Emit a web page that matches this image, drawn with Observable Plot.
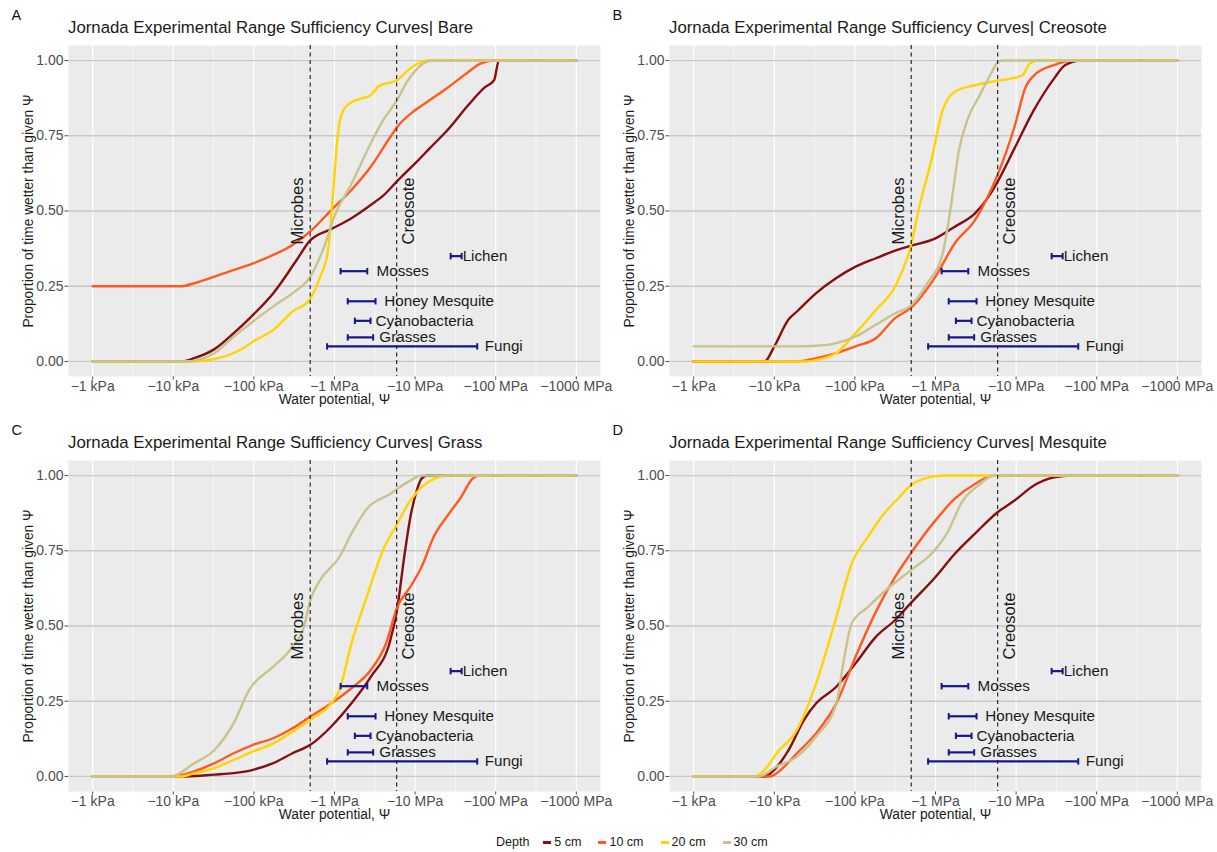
<!DOCTYPE html>
<html>
<head>
<meta charset="utf-8">
<script src="https://cdn.jsdelivr.net/npm/d3@7"></script>
<script src="https://cdn.jsdelivr.net/npm/@observablehq/plot@0.6"></script>
<style>
  body { margin: 0; background: #fff; }
  #root { position: relative; width: 1217px; height: 852px; overflow: hidden; font-family: "Liberation Sans", Arial, sans-serif; background: #fff; }
  .letter { position: absolute; font-size: 14.5px; line-height: 1; color: #111; }
  .title { position: absolute; font-size: 16.8px; line-height: 1; color: #1a1a1a; white-space: nowrap; }
  .panel { position: absolute; }
  .panel svg g[aria-label*="tick label"], .panel svg g[aria-label*="tick label"] text,
  .panel svg g[aria-label="x-axis"] text, .panel svg g[aria-label="y-axis"] text { font-size: 14px; }
  #legend { position: absolute; left: 496px; top: 834px; height: 16px; display: flex; align-items: center; font-size: 12.5px; color: #1a1a1a; white-space: nowrap; }
  #legend .sw { display: inline-block; width: 8px; height: 3px; margin-left: 17px; margin-right: 3px; }
</style>
</head>
<body>
<div id="root"></div>
<script>
// ---------- data ----------
const panels = ["Bare", "Creosote", "Grass", "Mesquite"];
const panelLetters = ["A", "B", "C", "D"];
const panelTitles = [
  "Jornada Experimental Range Sufficiency Curves| Bare",
  "Jornada Experimental Range Sufficiency Curves| Creosote",
  "Jornada Experimental Range Sufficiency Curves| Grass",
  "Jornada Experimental Range Sufficiency Curves| Mesquite"
];
const depths = ["5 cm", "10 cm", "20 cm", "30 cm"];
const depthColors = ["#860f12", "#ff5a22", "#ffd400", "#c9c38b"];

// x ticks: |water potential| in kPa
const xTickValues = [1, 10, 100, 1000, 10000, 100000, 1000000];
const xTickLabels = ["\u22121 kPa", "\u221210 kPa", "\u2212100 kPa", "\u22121 MPa", "\u221210 MPa", "\u2212100 MPa", "\u22121000 MPa"];
const xMinorValues = [3.16, 31.6, 316, 3160, 31600, 316000];
const yTickValues = [0, 0.25, 0.5, 0.75, 1];

// curves: [ |psi| kPa , proportion ]
const bare5 = [[1,0],[12.6,0],[18.2,0.011],[32.4,0.041],[56.2,0.094],[97.7,0.155],[174,0.227],[339,0.337],[490,0.40],[912,0.44],[1622,0.476],[2818,0.52],[3981,0.55],[6026,0.60],[10000,0.658],[15136,0.708],[26303,0.774],[45709,0.852],[72444,0.91],[95499,0.935],[109648,1],[1e6,1]];
const bare10 = [[1,0.25],[12.6,0.25],[18.2,0.26],[32.4,0.282],[56.2,0.304],[97.7,0.326],[174,0.354],[302,0.387],[525,0.437],[912,0.503],[1622,0.57],[2818,0.647],[4898,0.745],[6026,0.78],[10000,0.835],[15136,0.868],[26303,0.913],[45709,0.962],[64565,0.99],[95499,1],[1e6,1]];
const bare20 = [[1,0],[18.2,0],[32.4,0.008],[56.2,0.028],[79.4,0.05],[97.7,0.066],[174,0.105],[302,0.166],[490,0.205],[661,0.28],[832,0.37],[955,0.55],[1096,0.75],[1259,0.83],[1585,0.86],[2239,0.875],[2818,0.885],[3548,0.915],[6026,0.935],[7943,0.965],[10000,0.985],[14125,1],[1e6,1]];
const bare30 = [[1,0],[14.8,0],[32.4,0.028],[56.2,0.083],[97.7,0.133],[174,0.183],[302,0.227],[501,0.282],[741,0.38],[1023,0.49],[1622,0.59],[2818,0.725],[3981,0.80],[6026,0.87],[7943,0.93],[10000,0.965],[12589,0.99],[15849,1],[1e6,1]];

const creo5 = [[1,0],[7.59,0],[10,0.05],[15.1,0.14],[19.1,0.166],[33.1,0.227],[58.9,0.277],[102,0.315],[182,0.343],[316,0.368],[490,0.384],[1000,0.409],[1738,0.448],[3090,0.492],[4266,0.537],[5888,0.597],[9550,0.708],[16596,0.835],[29512,0.94],[40738,0.985],[64565,1],[1e6,1]];
const creo10 = [[1,0],[19.1,0],[33.1,0.011],[58.9,0.028],[102,0.05],[182,0.077],[316,0.144],[490,0.177],[1000,0.282],[1738,0.393],[3090,0.47],[4266,0.537],[5888,0.62],[9550,0.78],[13183,0.913],[16596,0.95],[29512,0.985],[51286,1],[1e6,1]];
const creo20 = [[1,0],[25.1,0],[33.1,0.005],[58.9,0.028],[102,0.094],[182,0.171],[316,0.249],[490,0.38],[631,0.514],[891,0.67],[1230,0.835],[1738,0.896],[3090,0.918],[5370,0.931],[8511,0.94],[12023,0.951],[14791,0.99],[18621,1],[1e6,1]];
const creo30 = [[1,0.05],[19.1,0.05],[33.1,0.052],[58.9,0.061],[102,0.083],[182,0.122],[316,0.16],[490,0.185],[794,0.26],[1230,0.36],[1549,0.514],[1950,0.70],[2570,0.813],[3467,0.88],[4898,0.957],[6026,0.996],[7079,1],[1e6,1]];

const grass5 = [[1,0],[14.8,0],[32.4,0.006],[56.2,0.011],[97.7,0.022],[174,0.044],[302,0.077],[501,0.105],[912,0.166],[1622,0.243],[2818,0.331],[4898,0.45],[6026,0.56],[7244,0.72],[8710,0.86],[10471,0.95],[12023,0.99],[14125,1],[1e6,1]];
const grass10 = [[1,0],[9.33,0],[18.2,0.017],[32.4,0.044],[56.2,0.077],[97.7,0.105],[174,0.127],[302,0.16],[501,0.199],[912,0.243],[1622,0.293],[2818,0.354],[4365,0.442],[6026,0.564],[8710,0.63],[12023,0.696],[16982,0.796],[26303,0.873],[37154,0.928],[51286,0.989],[63096,1],[1e6,1]];
const grass20 = [[1,0],[12.6,0],[18.2,0.011],[32.4,0.028],[56.2,0.055],[97.7,0.083],[174,0.11],[302,0.149],[501,0.188],[912,0.243],[1148,0.287],[1622,0.442],[2512,0.597],[3981,0.751],[6026,0.84],[8710,0.917],[12023,0.961],[19055,0.994],[25119,1],[1e6,1]];
const grass30 = [[1,0],[9.33,0],[18.2,0.044],[32.4,0.088],[56.2,0.177],[87.1,0.287],[174,0.365],[302,0.431],[417,0.497],[501,0.586],[661,0.652],[1148,0.729],[1622,0.807],[2512,0.889],[4898,0.939],[8710,0.983],[12023,1],[1e6,1]];

const mesq5 = [[1,0],[7.59,0],[9.55,0.017],[15.1,0.088],[23.4,0.188],[33.1,0.243],[58.9,0.298],[102,0.376],[182,0.464],[316,0.52],[490,0.575],[1000,0.663],[1738,0.74],[3090,0.807],[5888,0.878],[9550,0.917],[16596,0.967],[29512,0.994],[50119,1],[1e6,1]];
const mesq10 = [[1,0],[8.91,0],[10.7,0.011],[19.1,0.077],[33.1,0.144],[58.9,0.243],[102,0.398],[182,0.547],[316,0.663],[490,0.74],[1000,0.851],[1738,0.923],[3090,0.972],[5370,1],[1e6,1]];
const mesq20 = [[1,0],[5.62,0],[7.59,0.022],[10.7,0.077],[19.1,0.155],[33.1,0.31],[58.9,0.53],[91.2,0.707],[145,0.796],[229,0.873],[355,0.928],[490,0.967],[708,0.989],[1259,1],[1e6,1]];
const mesq30 = [[1,0],[6.31,0],[10.7,0.033],[19.1,0.066],[33.1,0.133],[58.9,0.243],[74.1,0.398],[91.2,0.508],[145,0.563],[229,0.613],[490,0.685],[891,0.74],[1380,0.807],[2188,0.917],[3388,0.967],[5370,1],[1e6,1]];

const seriesByPanel = {
  Bare: [bare5, bare10, bare20, bare30],
  Creosote: [creo5, creo10, creo20, creo30],
  Grass: [grass5, grass10, grass20, grass30],
  Mesquite: [mesq5, mesq10, mesq20, mesq30]
};

// thresholds (|psi| kPa)
const thresholdNames = ["Microbes", "Creosote"];
const thresholdPsi = [500, 5900];

// organism ranges (|psi| kPa)
const organisms = ["Lichen", "Mosses", "Honey Mesquite", "Cyanobacteria", "Grasses", "Fungi"];
const rangeLo = [27600, 1190, 1460, 1790, 1460, 810];
const rangeHi = [37800, 2550, 3230, 2800, 3020, 59000];
const rangeP = [0.35, 0.30, 0.20, 0.135, 0.08, 0.05];
const labelPsi = [37800, 3230, 4030, 3140, 3500, 71000];

// ---------- build ----------
const root = document.getElementById("root");
const navy = "#16168a";
const font = "Liberation Sans, Arial, sans-serif";
const capSymbol = { draw(ctx, size) { const h = Math.sqrt(size / Math.PI); ctx.moveTo(0, -h); ctx.lineTo(0, h); } };

const bars = organisms.map((name, i) => ({ name, lo: rangeLo[i], hi: rangeHi[i], p: rangeP[i], lx: labelPsi[i] }));
const caps = bars.flatMap(b => [{ psi: b.lo, p: b.p }, { psi: b.hi, p: b.p }]);
const thresholds = thresholdNames.map((name, i) => ({ name, psi: thresholdPsi[i] }));

const colX = [0, 601], rowY = [0, 415];

panels.forEach((name, i) => {
  const ox = colX[i % 2], oy = rowY[Math.floor(i / 2)];

  const L = document.createElement("div");
  L.className = "letter"; L.style.left = (ox + 11.5) + "px"; L.style.top = (oy + 7.5) + "px";
  L.textContent = panelLetters[i]; root.appendChild(L);

  const T = document.createElement("div");
  T.className = "title"; T.style.left = (ox + 68) + "px"; T.style.top = (oy + 19.5) + "px";
  T.textContent = panelTitles[i]; root.appendChild(T);

  const rows = [];
  seriesByPanel[name].forEach((s, j) => s.forEach(([psi, p]) => rows.push({ psi, p, depth: depths[j] })));

  const svg = Plot.plot({
    width: 608, height: 370,
    marginLeft: 68, marginRight: 8, marginTop: 5, marginBottom: 34,
    style: { fontFamily: font, fontSize: "14px", color: "#4d4d4d", background: "transparent", overflow: "visible" },
    x: { type: "log", domain: [Math.pow(10, -0.3), Math.pow(10, 6.3)], ticks: xTickValues,
         tickFormat: d => xTickLabels[xTickValues.indexOf(d)], tickSize: 3.5, tickPadding: 1, label: null },
    y: { domain: [-0.05, 1.05], ticks: yTickValues, tickFormat: d3.format(".2f"), tickSize: 3.5, tickPadding: 1.5, label: null },
    color: { domain: depths, range: depthColors },
    marks: [
      Plot.frame({ fill: "#ebebeb", stroke: null }),
      Plot.ruleX(xMinorValues, { stroke: "white", strokeWidth: 0.6 }),
      Plot.ruleX(xTickValues, { stroke: "white", strokeWidth: 1.2 }),
      Plot.ruleY(yTickValues, { stroke: "#c9c9c9", strokeWidth: 1.3 }),
      Plot.line(rows, { x: "psi", y: "p", stroke: "depth", z: "depth", strokeWidth: 2.4, curve: "monotone-x", strokeLinejoin: "round" }),
      Plot.ruleX(thresholds, { x: "psi", stroke: "#2a2a2a", strokeWidth: 1.2, strokeDasharray: "4,3.5" }),
      Plot.text(thresholds, { x: "psi", y: () => 0.5, text: "name", rotate: -90,
        fontSize: 16.5, fill: "#1a1a1a", textAnchor: "middle", lineAnchor: "middle",
        filter: d => d.name === "Microbes", dx: -13 }),
      Plot.text(thresholds, { x: "psi", y: () => 0.5, text: "name", rotate: -90,
        fontSize: 16.5, fill: "#1a1a1a", textAnchor: "middle", lineAnchor: "middle",
        filter: d => d.name === "Creosote", dx: 12 }),
      Plot.ruleY(bars, { y: "p", x1: "lo", x2: "hi", stroke: navy, strokeWidth: 2.2 }),
      Plot.dot(caps, { x: "psi", y: "p", symbol: capSymbol, r: 3.2, stroke: navy, fill: "none", strokeWidth: 2 }),
      Plot.text(bars, { x: "lx", y: "p", text: "name", textAnchor: "start", dx: 1, fontSize: 15.2, fill: "#1a1a1a" }),
      Plot.text(["Water potential, \u03a8"], { text: d => d, frameAnchor: "bottom", dy: 23, fontSize: 13.8, fill: "#1a1a1a", lineAnchor: "middle" }),
      Plot.text(["Proportion of time wetter than given \u03a8"], { text: d => d, frameAnchor: "left", dx: -40, rotate: -90, fontSize: 13.8, fill: "#1a1a1a", lineAnchor: "middle", textAnchor: "middle" })
    ]
  });

  const wrap = document.createElement("div");
  wrap.className = "panel"; wrap.style.left = ox + "px"; wrap.style.top = (oy + 40) + "px";
  wrap.appendChild(svg); root.appendChild(wrap);
});

// legend
const leg = document.createElement("div");
leg.id = "legend";
const lt = document.createElement("span"); lt.textContent = "Depth"; leg.appendChild(lt);
depths.forEach((d, i) => {
  const sw = document.createElement("span"); sw.className = "sw"; sw.style.background = depthColors[i];
  if (i === 0) sw.style.marginLeft = "14px";
  leg.appendChild(sw);
  const t = document.createElement("span"); t.textContent = d; leg.appendChild(t);
});
root.appendChild(leg);
</script>
</body>
</html>
